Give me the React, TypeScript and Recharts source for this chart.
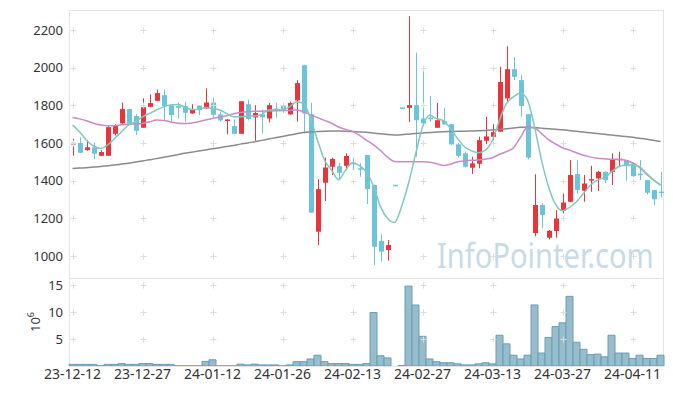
import React from 'react';
import { ComposedChart, BarChart, Bar, Line, XAxis, YAxis, ReferenceDot } from 'recharts';

const dates = [
  '23-12-12','23-12-13','23-12-14','23-12-15','23-12-18','23-12-19','23-12-20','23-12-21','23-12-22','23-12-26',
  '23-12-27','23-12-28','24-01-02','24-01-03','24-01-04','24-01-05','24-01-08','24-01-09','24-01-10','24-01-11',
  '24-01-12','24-01-15','24-01-16','24-01-17','24-01-18','24-01-19','24-01-22','24-01-23','24-01-24','24-01-25',
  '24-01-26','24-01-29','24-01-30','24-01-31','24-02-01','24-02-02','24-02-05','24-02-06','24-02-07','24-02-08',
  '24-02-13','24-02-14','24-02-15','24-02-16','24-02-19','24-02-20','24-02-21','24-02-22','24-02-23','24-02-26',
  '24-02-27','24-02-28','24-02-29','24-03-04','24-03-05','24-03-06','24-03-07','24-03-08','24-03-11','24-03-12',
  '24-03-13','24-03-14','24-03-15','24-03-18','24-03-19','24-03-20','24-03-21','24-03-22','24-03-25','24-03-26',
  '24-03-27','24-03-28','24-03-29','24-04-01','24-04-02','24-04-03','24-04-04','24-04-05','24-04-08','24-04-09',
  '24-04-11','24-04-12','24-04-15','24-04-16','24-04-17',
];

const opens = [
  1592,1600,1562,1577,1532,1532,1649,1704,1780,1743,
  1681,1792,1824,1854,1800,1796,1796,1757,1799,1783,
  1815,1752,1718,1690,1649,1806,1736,1753,1730,1782,
  1799,1752,1826,2013,1753,1129,1389,1474,1477,1479,
  1495,1466,1536,1377,1080,1032,1378,1789,1787,1801,
  1730,1735,1681,1717,1700,1593,1545,1469,1490,1612,
  1633,1660,1837,1992,1934,1753,1122,1271,1097,1133,
  1240,1288,1435,1347,1404,1412,1447,1447,1512,1509,
  1492,1437,1403,1350,1342,
];
const highs = [
  1622,1630,1614,1603,1562,1690,1700,1815,1782,1752,
  1837,1858,1884,1884,1805,1813,1819,1806,1800,1890,
  1842,1766,1727,1725,1822,1830,1801,1778,1813,1813,
  1813,1820,1934,2015,1813,1408,1523,1523,1495,1545,
  1519,1492,1536,1380,1115,1085,1378,1789,2273,2080,
  1995,1849,1813,1787,1702,1600,1555,1527,1633,1739,
  1700,2005,2114,2056,1960,1755,1434,1280,1138,1244,
  1332,1509,1509,1430,1479,1452,1450,1545,1554,1510,
  1495,1509,1405,1350,1447,
];
const lows = [
  1532,1548,1559,1515,1530,1532,1640,1700,1695,1642,
  1681,1790,1822,1721,1713,1730,1713,1755,1748,1781,
  1730,1713,1647,1649,1649,1720,1612,1651,1709,1735,
  1760,1750,1713,1651,1230,1058,1292,1430,1403,1456,
  1456,1421,1276,952,970,975,1376,1787,1712,1527,
  1695,1712,1680,1697,1590,1522,1470,1435,1466,1594,
  1615,1658,1819,1934,1739,1513,1105,1147,1088,1097,
  1226,1285,1332,1288,1341,1345,1387,1377,1474,1400,
  1420,1403,1327,1271,1311,
];
const closes = [
  1601,1548,1577,1543,1552,1684,1693,1780,1704,1665,
  1790,1812,1865,1796,1748,1787,1760,1778,1775,1815,
  1750,1720,1725,1649,1822,1727,1759,1736,1801,1776,
  1771,1812,1918,1757,1230,1355,1470,1515,1442,1531,
  1490,1461,1355,1049,1023,1058,1376,1787,1801,1721,
  1704,1726,1721,1699,1593,1532,1474,1492,1615,1635,
  1658,1924,1992,1951,1797,1522,1271,1218,1134,1199,
  1284,1430,1350,1385,1408,1447,1403,1515,1516,1477,
  1424,1434,1336,1301,1340,
];

const maShort = [
  1695,1660,1615,1584,1571,1589,1624,1660,1695,1712,
  1739,1757,1775,1792,1802,1804,1792,1778,1778,1789,
  1783,1775,1757,1739,1739,1743,1743,1752,1775,1778,
  1775,1792,1819,1810,1730,1615,1509,1456,1405,1456,
  1495,1480,1445,1370,1262,1200,1178,1262,1386,1540,
  1685,1748,1730,1718,1677,1624,1580,1558,1548,1562,
  1615,1721,1810,1845,1866,1828,1686,1509,1368,1275,
  1240,1258,1288,1332,1377,1403,1417,1447,1474,1483,
  1483,1474,1439,1403,1377,
];
const maMid = [
  1736,1728,1718,1705,1695,1691,1692,1697,1700,1701,
  1704,1712,1722,1720,1712,1705,1703,1706,1713,1722,
  1730,1737,1745,1755,1762,1766,1768,1769,1770,1771,
  1772,1773,1775,1766,1750,1735,1720,1705,1685,1672,
  1662,1640,1615,1590,1560,1525,1502,1500,1500,1500,
  1500,1498,1490,1480,1488,1500,1505,1508,1510,1515,
  1522,1540,1555,1575,1630,1683,1680,1650,1618,1595,
  1575,1562,1548,1535,1525,1519,1516,1514,1514,1508,
  1495,1470,1435,1405,1377,
];
const maLong = [
  1465,1467,1469,1472,1475,1479,1483,1488,1493,1499,
  1505,1511,1517,1524,1531,1538,1545,1551,1557,1563,
  1569,1575,1581,1587,1594,1600,1607,1614,1621,1628,
  1635,1642,1649,1656,1659,1661,1663,1664,1664,1663,
  1661,1659,1657,1653,1649,1645,1643,1644,1647,1650,
  1653,1656,1658,1660,1661,1662,1663,1664,1665,1667,
  1669,1672,1676,1680,1683,1684,1682,1679,1676,1673,
  1670,1666,1662,1658,1654,1650,1646,1642,1638,1634,
  1630,1625,1620,1614,1608,
];

const volumes = [
  0.3,0.3,0.3,0.3,0.05,0.3,0.3,0.45,0.3,0.3,
  0.45,0.45,0.3,0.3,0.3,0.02,0.02,0.02,0.02,0.85,
  1.15,0.02,0.02,0.02,0.35,0.2,0.35,0.2,0.2,0.2,
  0.02,0.2,0.8,0.8,1.3,2.0,0.8,0.45,0.45,0.45,
  0.3,0.3,0.45,9.9,1.9,1.5,0,0.1,14.8,11.3,
  5.5,1.3,0.8,0.6,0.6,0.4,0.2,0.2,0.4,0.6,
  0.4,5.7,4.1,2.0,1.3,2.0,11.3,2.4,5.3,7.3,
  8.0,12.9,4.4,3.1,2.1,2.2,1.7,5.7,2.4,2.4,
  1.4,2.0,1.4,1.4,2.0,
];

const xTicks = ['23-12-12','23-12-27','24-01-12','24-01-26','24-02-13','24-02-27','24-03-13','24-03-27','24-04-11'];
const priceTicks = [1000, 1200, 1400, 1600, 1800, 2000, 2200];
const volTicks = [5, 10, 15];

const data = dates.map((d, i) => ({
  date: d,
  open: opens[i],
  high: highs[i],
  low: lows[i],
  close: closes[i],
  range: [lows[i], highs[i]],
  maShort: maShort[i],
  maMid: maMid[i],
  maLong: maLong[i],
  vol: volumes[i],
}));

const UP = '#ea343b';
const DOWN = '#6cc4da';
const FONT = "'Noto Sans', sans-serif";

const Candle = (props: any) => {
  const { x, y, width, height, payload } = props;
  if (!payload) return null;
  const { open, close, high, low } = payload;
  const top = Math.min(y, y + height);
  const h = Math.abs(height);
  const span = high - low;
  const k = span > 0 ? h / span : 0;
  const py = (v: number) => top + (high - v) * k;
  const cx = Math.round(x + width / 2) + 0.5;
  const color = close > open ? UP : DOWN;
  const bTop = py(Math.max(open, close));
  const bBot = py(Math.min(open, close));
  const bw = 5;
  return (
    <g>
      <line x1={cx} x2={cx} y1={top} y2={top + h} stroke={color} strokeWidth={1} />
      <rect x={cx - bw / 2} y={bTop} width={bw} height={Math.max(bBot - bTop, 1.5)} fill={color} />
    </g>
  );
};

const Cross = (p: any) => {
  const { cx, cy } = p;
  if (cx == null || cy == null) return null;
  const X = Math.round(cx) + 0.5;
  const Y = Math.round(cy) + 0.5;
  return (
    <g>
      <line x1={X - 3} x2={X + 3} y1={Y} y2={Y} stroke="#dcdcdc" strokeWidth={1} />
      <line x1={X} x2={X} y1={Y - 3} y2={Y + 3} stroke="#dcdcdc" strokeWidth={1} />
    </g>
  );
};

export default function App() {
  return (
    <div style={{ position: 'absolute', left: 0, top: 0, width: 673, height: 396, background: '#fff' }}>
      <svg width={673} height={396} style={{ position: 'absolute', left: 0, top: 0 }}>
        <rect x={69.5} y={10.5} width={594} height={356} fill="none" stroke="#e4e4e4" />
        <line x1={69.5} x2={663.5} y1={278.5} y2={278.5} stroke="#e4e4e4" />
        <text transform="translate(437,268) scale(0.855,1)" fontFamily={FONT} fontSize={34} fill="#c8dae6">
          InfoPointer.com
        </text>
        <text transform="translate(40,322) rotate(-90)" textAnchor="middle" fontFamily={FONT} fontSize={13} fill="#333">
          10<tspan dy={-6} fontSize={9}>6</tspan>
        </text>
      </svg>
      <div style={{ position: 'absolute', left: 0, top: 0 }}>
        <ComposedChart width={673} height={278} data={data} margin={{ top: 10, right: 9, left: 0, bottom: 0 }}>
          <XAxis dataKey="date" hide />
          <YAxis
            domain={[883.2, 2306.2]}
            allowDataOverflow
            ticks={priceTicks}
            interval={0}
            width={69}
            axisLine={false}
            tickLine={false}
            tickSize={0}
            tickMargin={6}
            tick={{ fontSize: 13, fill: '#333', fontFamily: FONT }}
          />
          {xTicks.map((d) =>
            priceTicks.map((v) => (
              <ReferenceDot key={d + v} x={d} y={v} r={0} shape={Cross} ifOverflow="visible" />
            ))
          )}
          <Bar dataKey="range" shape={Candle} isAnimationActive={false} />
          <Line type="monotone" dataKey="maLong" stroke="#8a8a8a" strokeWidth={1.5} dot={false} isAnimationActive={false} />
          <Line type="monotone" dataKey="maMid" stroke="#c98bc6" strokeWidth={1.5} dot={false} isAnimationActive={false} />
          <Line type="monotone" dataKey="maShort" stroke="#82c8bc" strokeWidth={1.5} dot={false} isAnimationActive={false} />
        </ComposedChart>
      </div>
      <div style={{ position: 'absolute', left: 0, top: 266 }}>
        <BarChart width={673} height={130} data={data} margin={{ top: 12, right: 9, left: 0, bottom: 0 }} barCategoryGap={0}>
          <XAxis
            dataKey="date"
            ticks={xTicks}
            interval={0}
            height={30}
            axisLine={false}
            tickLine={false}
            tickSize={0}
            tickMargin={3}
            tick={{ fontSize: 14, fill: '#333', fontFamily: FONT }}
          />
          <YAxis
            domain={[0, 16.3]}
            allowDataOverflow
            ticks={volTicks}
            interval={0}
            width={69}
            axisLine={false}
            tickLine={false}
            tickSize={0}
            tickMargin={6}
            tick={{ fontSize: 13, fill: '#333', fontFamily: FONT }}
          />
          {xTicks.map((d) =>
            volTicks.map((v) => (
              <ReferenceDot key={d + v} x={d} y={v} r={0} shape={Cross} ifOverflow="visible" />
            ))
          )}
          <Bar dataKey="vol" fill="#97bdcd" stroke="#6a9cb3" strokeWidth={1} isAnimationActive={false} />
        </BarChart>
      </div>
    </div>
  );
}
